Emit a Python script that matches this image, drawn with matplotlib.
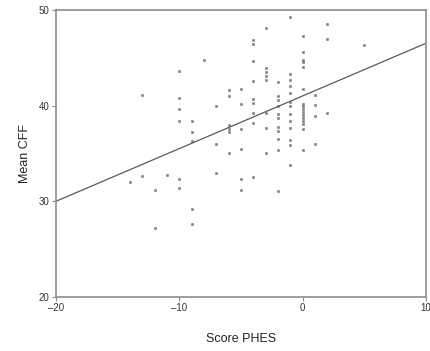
"""Scatter of mean CFF against PHES score, with fitted line."""
import matplotlib
matplotlib.use("Agg")
import matplotlib.pyplot as plt

plt.rcParams["font.family"] = ["Liberation Sans", "DejaVu Sans"]

# values, grouped by PHES score
phes = (
    [-14] + [-13] * 2 + [-12] * 2 + [-11] + [-10] * 6 + [-9] * 5 + [-8]
    + [-7] * 3 + [-6] * 6 + [-5] * 6 + [-4] * 9 + [-3] * 8 + [-2] * 11
    + [-1] * 13 + [0] * 16 + [1] * 4 + [2] * 3 + [5]
)
cff = [
    32.0,
    32.6, 41.1,
    31.2, 27.2,
    32.7,
    43.6, 40.8, 39.6, 38.4, 32.3, 31.4,
    38.4, 37.2, 36.3, 29.2, 27.6,
    44.8,
    40.0, 36.0, 33.0,
    41.6, 41.0, 38.0, 37.5, 37.2, 35.0,
    41.7, 40.2, 37.6, 35.5, 32.3, 31.2,
    46.4, 46.8, 44.7, 42.6, 40.7, 40.3, 39.2, 38.2, 32.5,
    48.1, 43.9, 43.5, 43.1, 42.7, 39.2, 37.7, 35.0,
    42.5, 41.0, 40.6, 40.0, 39.1, 38.7, 37.8, 37.3, 36.5, 35.4, 31.1,
    49.3, 43.3, 42.7, 42.0, 41.3, 40.4, 39.9, 39.1, 38.4, 37.7, 36.4, 35.9, 33.8,
    47.3, 45.6, 44.8, 44.5, 44.0, 41.7, 40.2, 39.9, 39.6, 39.3, 39.0, 38.7,
    38.4, 38.1, 37.6, 35.4,
    41.1, 40.1, 38.9, 36.0,
    48.5, 47.0, 39.2,
    46.3,
]

# fitted line as drawn in the figure
fit_intercept = 41.0
fit_slope = 0.55

x_ticks = [-20, -10, 0, 10]
y_ticks = [20, 30, 40, 50]

fig = plt.figure(figsize=(4.31, 3.51), dpi=100)
ax = fig.add_axes([0.130, 0.154, 0.858, 0.818])

ax.plot(phes, cff, "s", color="#7c7c7c", markersize=2.0,
        markeredgewidth=0.4, markeredgecolor="#7c7c7c")
ax.axline((0, fit_intercept), slope=fit_slope, color="#5a5a5a", lw=0.9)

ax.set_xlim(-20, 10)
ax.set_ylim(20, 50)
ax.set_xticks(x_ticks)
ax.set_yticks(y_ticks)
ax.set_xticklabels(["\u201320", "\u201310", "0", "10"])

for side in ax.spines.values():
    side.set_color("#8c8c8c")
    side.set_linewidth(1.2)
ax.tick_params(direction="out", length=3, width=0.8, color="#8c8c8c",
               labelsize=7, labelcolor="#333333", pad=1.5)

ax.set_xlabel("Score PHES", fontsize=9, color="#222222", labelpad=14)
ax.set_ylabel("Mean CFF", fontsize=9, color="#222222", labelpad=6)

fig.savefig("out.png", dpi=100)
plt.close(fig)
